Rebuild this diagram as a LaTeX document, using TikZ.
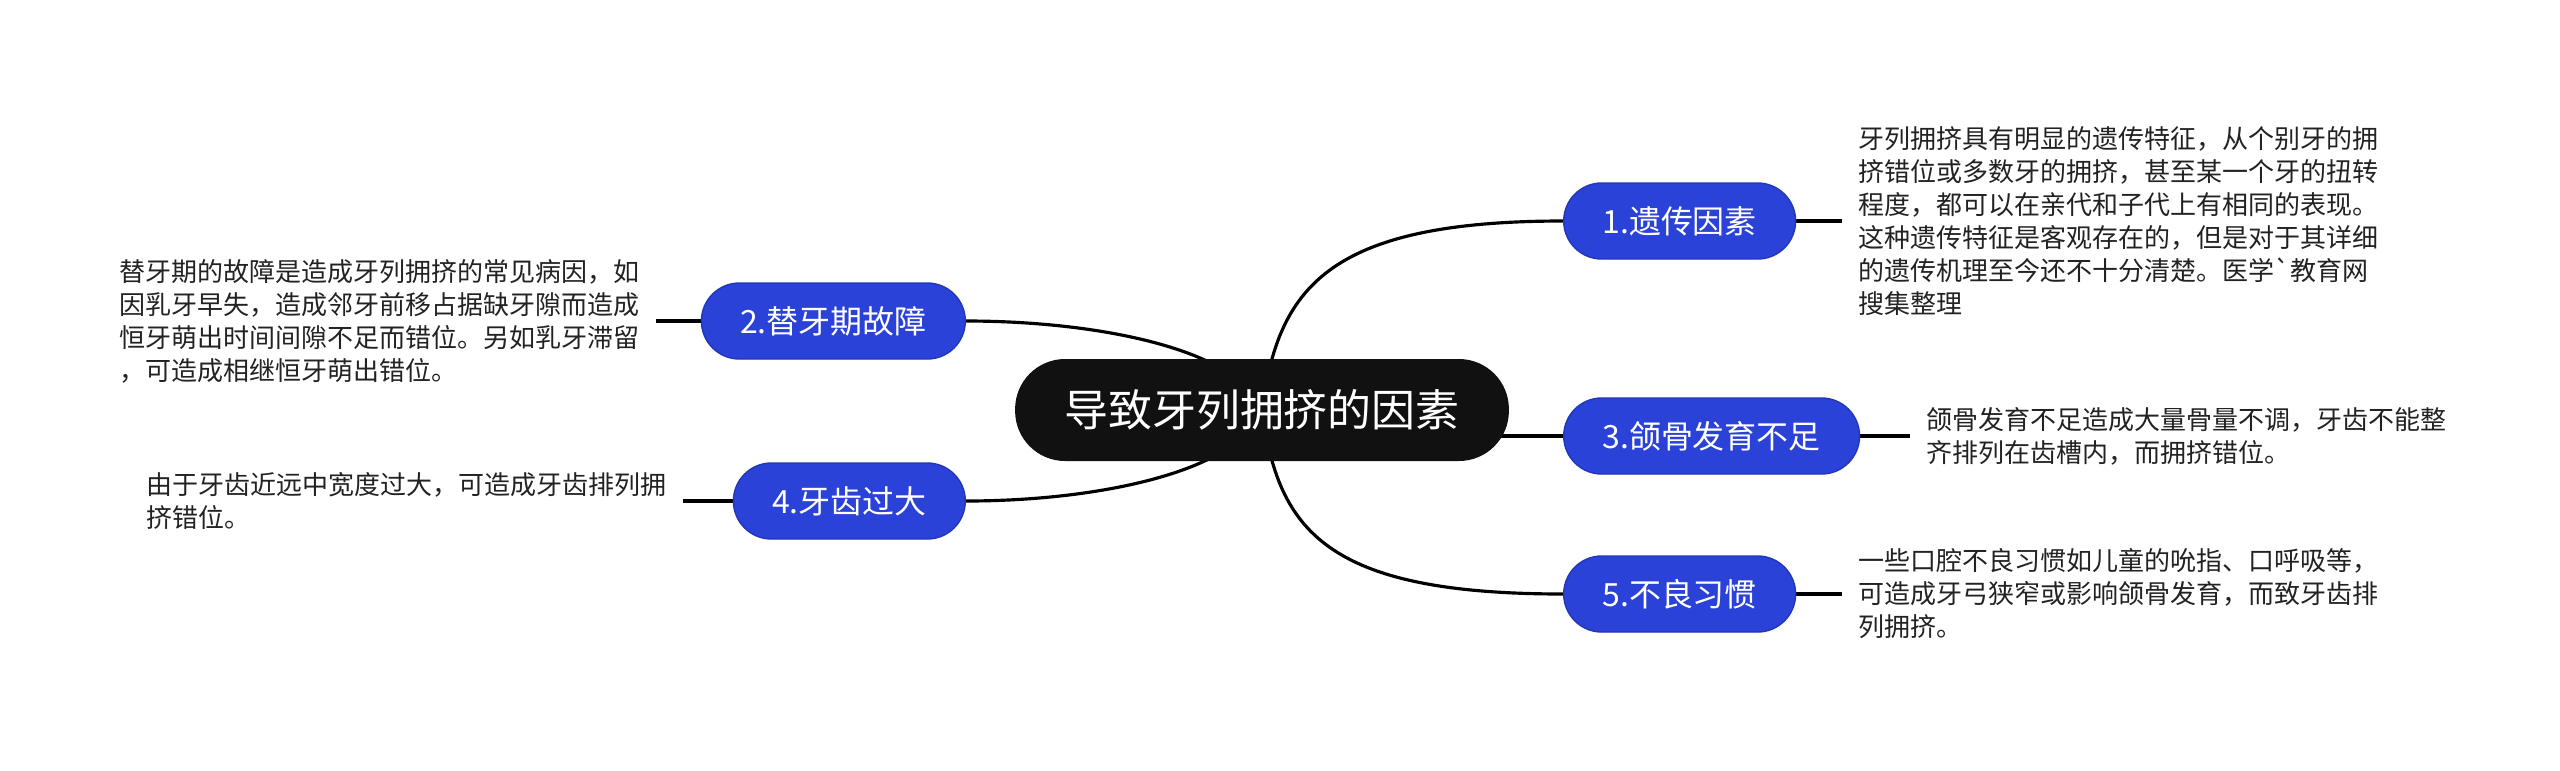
\documentclass[tikz,border=0pt]{standalone}
\usepackage{fontspec}
\setmainfont{Noto Sans CJK SC}[Ligatures=TeXOff]
\usepackage{tikz}
\usetikzlibrary{
  positioning,
  backgrounds,
}
\definecolor{rootfill}{HTML}{111111}
\definecolor{topicblue}{HTML}{2A42D8}
\definecolor{topicedge}{HTML}{2236B8}
\definecolor{notetext}{HTML}{222222}
\tikzset{
  rootbox/.style={
    rectangle, rounded corners=0.5cm, fill=rootfill, text=white,
    minimum height=1.02cm, inner xsep=14pt, inner ysep=0pt,
    font=\fontsize{12.5}{15}\selectfont,
  },
  topicbox/.style={
    rectangle, rounded corners=0.38cm, draw=topicedge, line width=0.4pt,
    fill=topicblue, text=white, minimum height=0.76cm,
    inner xsep=11pt, inner ysep=0pt, font=\fontsize{9.1}{11}\selectfont,
  },
  notebox/.style={
    rectangle, inner xsep=4.5pt, inner ysep=2pt, align=left,
    text=notetext, font=\fontsize{7.4}{9.4}\selectfont,
  },
  branch/.style={
    draw=black, line width=0.9pt,
  },
  leaf/.style={
    draw=black, line width=0.9pt,
  },
}

\begin{document}
\begin{tikzpicture}
\useasboundingbox (0,0) rectangle (25.6,-7.7);

% Central topic
\node[rootbox] (root) at (12.62, -4.10) {导致牙列拥挤的因素};

% Main branches, right side
\node[topicbox, anchor=west] (gene) at (15.63, -2.21) {1.遗传因素};
\node[topicbox, anchor=west] (jaw) at (15.63, -4.36) {3.颌骨发育不足};
\node[topicbox, anchor=west] (habit) at (15.63, -5.94) {5.不良习惯};

% Main branches, left side
\node[topicbox, anchor=east] (change) at (9.66, -3.21) {2.替牙期故障};
\node[topicbox, anchor=east] (size) at (9.66, -5.01) {4.牙齿过大};

% Notes
\node[notebox, anchor=west] (geneNote) at (18.42, -2.21)
   {牙列拥挤具有明显的遗传特征，从个别牙的拥\\
    挤错位或多数牙的拥挤，甚至某一个牙的扭转\\
    程度，都可以在亲代和子代上有相同的表现。\\
    这种遗传特征是客观存在的，但是对于其详细\\
    的遗传机理至今还不十分清楚。医学`教育网\\
    搜集整理};
\node[notebox, anchor=east] (changeNote) at (6.56, -3.21)
   {替牙期的故障是造成牙列拥挤的常见病因，如\\
    因乳牙早失，造成邻牙前移占据缺牙隙而造成\\
    恒牙萌出时间间隙不足而错位。另如乳牙滞留\\
    ，可造成相继恒牙萌出错位。};
\node[notebox, anchor=west] (jawNote) at (19.10, -4.36)
   {颌骨发育不足造成大量骨量不调，牙齿不能整\\
    齐排列在齿槽内，而拥挤错位。};
\node[notebox, anchor=east] (sizeNote) at (6.83, -5.01)
   {由于牙齿近远中宽度过大，可造成牙齿排列拥\\
    挤错位。};
\node[notebox, anchor=west] (habitNote) at (18.42, -5.94)
   {一些口腔不良习惯如儿童的吮指、口呼吸等，\\
    可造成牙弓狭窄或影响颌骨发育，而致牙齿排\\
    列拥挤。};

% Connectors, kept behind the boxes
\begin{scope}[on background layer]
  \draw[branch] (root.center) .. controls (12.78, -2.90) and (13.25, -2.21) .. (gene.west);
  \draw[branch] (root.center) .. controls (12.78, -5.30) and (13.25, -5.94) .. (habit.west);
  \draw[branch] (jaw.west -| root.center) -- (jaw.west);
  \draw[branch] (root.center) .. controls (12.40, -3.50) and (11.00, -3.21) .. (change.east);
  \draw[branch] (root.center) .. controls (12.40, -4.71) and (11.00, -5.01) .. (size.east);

  \draw[leaf] (gene.east) -- (geneNote.west);
  \draw[leaf] (jaw.east) -- (jawNote.west);
  \draw[leaf] (habit.east) -- (habitNote.west);
  \draw[leaf] (change.west) -- (changeNote.east);
  \draw[leaf] (size.west) -- (sizeNote.east);
\end{scope}

\end{tikzpicture}
\end{document}
